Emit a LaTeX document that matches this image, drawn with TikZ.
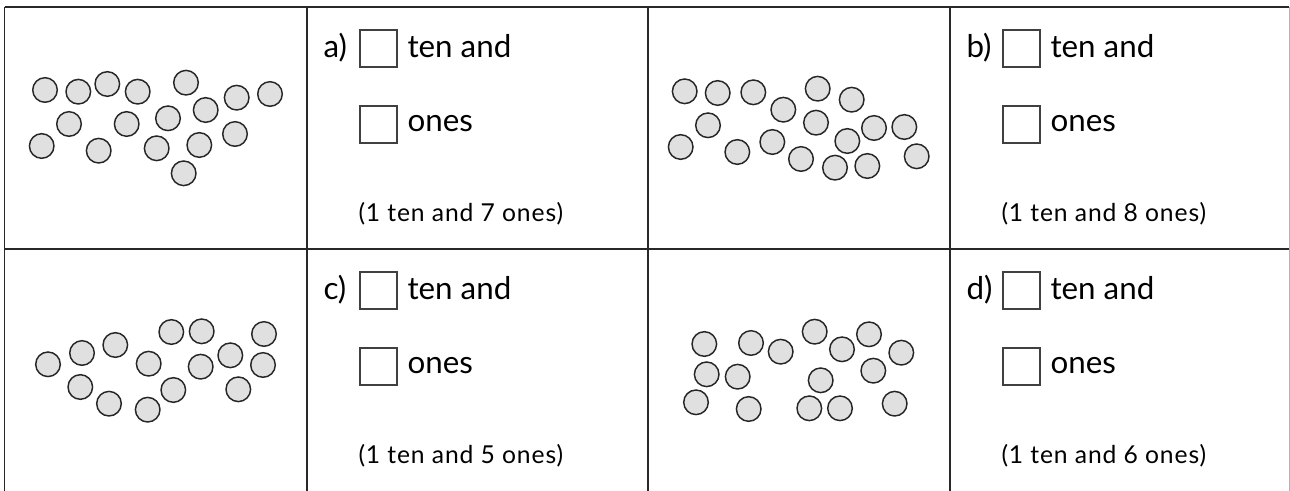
\documentclass[tikz,border=0pt]{standalone}
\usepackage{fontspec}
\setmainfont{Lato}
\newfontfamily\hintfont[LetterSpace=3.5]{Lato}
\usepackage{tikz}

\definecolor{counterfill}{RGB}{224,224,224}
\definecolor{gridline}{RGB}{40,40,40}

\tikzset{every picture/.style={line width=0.75pt}}
\tikzset{
  counter/.style={fill=counterfill, draw=black!85, line width=1.1pt},
  ansbox/.style={draw=black!75, line width=0.8pt},
  gridrule/.style={draw=gridline, line width=1.1pt}
}
\newcommand{\bigtxt}{\fontsize{23.5}{27}\selectfont}
\newcommand{\hinttxt}{\hintfont\fontsize{18.5}{21}\selectfont}

\begin{document}
\begin{tikzpicture}[x=0.75pt,y=0.75pt,yscale=-1,xscale=1]
	\useasboundingbox (0,0) rectangle (1290,491);
	\clip (0,0) rectangle (1290,491);
	% table
	\draw [gridrule]   (4.5,7) -- (1289,7) (4.5,249) -- (1289,249) ;
	\draw [gridrule]   (4.5,7) -- (4.5,495) (307,7) -- (307,495) (648,7) -- (648,495) (950,7) -- (950,495) ;
	\draw [draw=black!30, line width=1.1pt]   (1289.5,7) -- (1289.5,495) ;

	% counters a)
	\foreach \cx/\cy in {45/90, 78.3/91.7, 107.3/84, 137.7/91.7, 186/82.7, 236.7/97.7, 270/94, 69/124, 126.7/124, 168/118.3, 205.7/110, 235/134, 41.7/146, 98.7/150.7, 156.7/148.3, 199.3/145, 183.7/173.3}
		\draw [counter] (\cx,\cy) circle (12.3) ;
	% counters b)
	\foreach \cx/\cy in {684.7/91.3, 717.7/93, 753.3/92.3, 817.7/88.7, 851.7/99.7, 783.3/109.7, 708/125.3, 816/122.7, 874/128, 904.3/127, 680.7/147, 737.3/152, 772.3/142, 847.3/141, 801/159, 835/167.7, 867.3/166, 916.7/156.3}
		\draw [counter] (\cx,\cy) circle (12.3) ;
	% counters c)
	\foreach \cx/\cy in {48/364.3, 82/353, 115.3/345, 148.7/363.7, 171.3/332, 201.7/331.3, 264/334, 200.7/366.7, 230.3/355.3, 263/365, 80.3/387, 109/403.7, 147.7/409.7, 173.3/390, 238.3/389.3}
		\draw [counter] (\cx,\cy) circle (12.3) ;
	% counters d)
	\foreach \cx/\cy in {704.3/344, 751/343, 780.7/351.7, 814.7/331.7, 842/349.3, 869/334.3, 901.3/352.7, 706.7/374.3, 737.7/376.7, 820.7/380.3, 873.3/370.7, 696/402.3, 748.7/409, 809.3/408.3, 840/408.3, 894.7/403.7}
		\draw [counter] (\cx,\cy) circle (12.3) ;

	% answer boxes
	\draw [ansbox] (360,30) rectangle (397,67) ;
	\draw [ansbox] (360,106) rectangle (397,143) ;
	\draw [ansbox] (1003,30) rectangle (1040,67) ;
	\draw [ansbox] (1003,106) rectangle (1040,143) ;
	\draw [ansbox] (360,272) rectangle (397,309) ;
	\draw [ansbox] (360,348) rectangle (397,385) ;
	\draw [ansbox] (1003,272) rectangle (1040,309) ;
	\draw [ansbox] (1003,348) rectangle (1040,385) ;

	% texts
	\draw (323,58) node (labA) [anchor=base west][inner sep=0pt]  [font=\bigtxt]  {a)};
	\draw (407,58) node (tenA) [anchor=base west][inner sep=0pt]  [font=\bigtxt]  {ten and};
	\draw (407,132) node (oneA) [anchor=base west][inner sep=0pt]  [font=\bigtxt]  {ones};
	\draw (358,222) node (hintA) [anchor=base west][inner sep=0pt]  [font=\hinttxt]  {(1 ten and 7 ones)};

	\draw (966,58) node (labB) [anchor=base west][inner sep=0pt]  [font=\bigtxt]  {b)};
	\draw (1050,58) node (tenB) [anchor=base west][inner sep=0pt]  [font=\bigtxt]  {ten and};
	\draw (1050,132) node (oneB) [anchor=base west][inner sep=0pt]  [font=\bigtxt]  {ones};
	\draw (1001,222) node (hintB) [anchor=base west][inner sep=0pt]  [font=\hinttxt]  {(1 ten and 8 ones)};

	\draw (323,300) node (labC) [anchor=base west][inner sep=0pt]  [font=\bigtxt]  {c)};
	\draw (407,300) node (tenC) [anchor=base west][inner sep=0pt]  [font=\bigtxt]  {ten and};
	\draw (407,374) node (oneC) [anchor=base west][inner sep=0pt]  [font=\bigtxt]  {ones};
	\draw (358,464) node (hintC) [anchor=base west][inner sep=0pt]  [font=\hinttxt]  {(1 ten and 5 ones)};

	\draw (966,300) node (labD) [anchor=base west][inner sep=0pt]  [font=\bigtxt]  {d)};
	\draw (1050,300) node (tenD) [anchor=base west][inner sep=0pt]  [font=\bigtxt]  {ten and};
	\draw (1050,374) node (oneD) [anchor=base west][inner sep=0pt]  [font=\bigtxt]  {ones};
	\draw (1001,464) node (hintD) [anchor=base west][inner sep=0pt]  [font=\hinttxt]  {(1 ten and 6 ones)};
\end{tikzpicture}
\end{document}
